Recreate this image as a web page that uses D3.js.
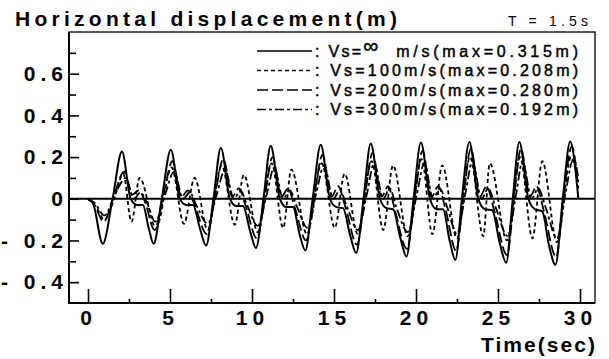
<!DOCTYPE html>
<html>
<head>
<meta charset="utf-8">
<script src="https://cdn.jsdelivr.net/npm/d3@7"></script>
<style>
  body { margin: 0; background: #fff; }
  svg { display: block; font-family: "Liberation Sans", Arial, sans-serif; }
</style>
</head>
<body>
<svg id="chart" width="609" height="359"></svg>
<script>
// [time (s), displacement (m)] key points
const vsInf = [[0,0],[0.3,-0.02],[0.9,-0.216],[1.5,0],[2.07,0.227],[2.6,0.0],[3.0,-0.03],[3.35,-0.03],[3.7,-0.14],[4.0,-0.216],[4.5,0.0],[5.05,0.235],[5.6,0.0],[6.0,-0.03],[6.4,-0.03],[6.85,-0.15],[7.2,-0.225],[7.65,0],[8.1,0.245],[8.65,0],[9.05,-0.035],[9.45,-0.035],[9.9,-0.16],[10.24,-0.236],[10.7,0],[11.14,0.254],[11.7,0],[12.1,-0.04],[12.5,-0.04],[12.9,-0.17],[13.25,-0.248],[13.7,0],[14.19,0.259],[14.75,0],[15.15,-0.04],[15.55,-0.045],[16.0,-0.18],[16.35,-0.26],[16.8,0],[17.24,0.265],[17.8,0],[18.2,-0.045],[18.6,-0.05],[19.05,-0.19],[19.42,-0.277],[19.85,0],[20.3,0.27],[20.85,0],[21.25,-0.05],[21.65,-0.05],[22.05,-0.2],[22.4,-0.293],[22.8,0],[23.25,0.272],[23.8,0],[24.2,-0.05],[24.65,-0.055],[25.1,-0.21],[25.5,-0.307],[25.9,0],[26.3,0.272],[26.85,0],[27.25,-0.05],[27.7,-0.06],[28.1,-0.22],[28.5,-0.317],[28.95,0],[29.4,0.275],[29.9,0.0]];

const vs100 = [[0,0],[0.5,-0.04],[1.0,-0.1],[1.6,0.0],[2.15,0.12],[2.65,-0.11],[3.15,0.1],[4.15,-0.14],[5.1,0.15],[5.85,-0.12],[6.5,0.1],[7.3,-0.15],[8.15,0.16],[8.95,-0.125],[9.5,0.115],[10.35,-0.16],[11.2,0.17],[11.9,-0.14],[12.4,0.14],[13.35,-0.17],[14.25,0.17],[15.05,-0.14],[15.65,0.12],[16.45,-0.17],[17.3,0.18],[18.0,-0.15],[18.6,0.16],[19.5,-0.18],[20.35,0.19],[21.0,-0.17],[21.6,0.16],[22.5,-0.19],[23.3,0.2],[24.1,-0.18],[24.5,0.17],[25.55,-0.2],[26.35,0.2],[27.1,-0.19],[27.7,0.18],[28.6,-0.208],[29.45,0.2],[29.9,0.08]];

const vs200 = [[0,0],[0.4,-0.03],[0.95,-0.11],[1.6,0.02],[2.2,0.13],[2.7,0.02],[3.1,0.04],[3.5,-0.02],[4.05,-0.15],[4.6,0.02],[5.15,0.18],[5.7,0.01],[6.1,0.04],[6.5,-0.03],[7.25,-0.17],[7.75,0.02],[8.25,0.19],[8.8,0.01],[9.2,0.05],[9.6,-0.03],[10.3,-0.19],[10.8,0.02],[11.25,0.2],[11.8,0.01],[12.2,0.05],[12.6,-0.04],[13.3,-0.2],[13.8,0.02],[14.3,0.21],[14.85,0.01],[15.25,0.06],[15.7,-0.04],[16.4,-0.22],[16.9,0.02],[17.35,0.22],[17.9,0.01],[18.3,0.06],[18.7,-0.05],[19.45,-0.24],[19.95,0.02],[20.4,0.23],[20.95,0.01],[21.35,0.06],[21.8,-0.05],[22.45,-0.25],[22.9,0.02],[23.35,0.24],[23.9,0.01],[24.3,0.06],[24.75,-0.05],[25.55,-0.27],[26.0,0.02],[26.4,0.24],[26.95,0.01],[27.35,0.06],[27.8,-0.06],[28.55,-0.28],[29.0,0.02],[29.5,0.25],[29.9,0.05]];

const vs300 = [[0,0],[0.4,-0.02],[1.0,-0.08],[1.7,0.03],[2.3,0.1],[2.8,0.0],[3.2,0.03],[3.6,-0.02],[4.1,-0.11],[4.7,0.02],[5.25,0.13],[5.8,0.0],[6.2,0.03],[6.6,-0.03],[7.3,-0.12],[7.85,0.02],[8.35,0.14],[8.9,0.0],[9.3,0.04],[9.7,-0.03],[10.35,-0.13],[10.9,0.02],[11.35,0.15],[11.9,0.0],[12.3,0.04],[12.7,-0.03],[13.4,-0.14],[13.9,0.02],[14.4,0.16],[14.95,0.0],[15.35,0.04],[15.8,-0.04],[16.45,-0.15],[17.0,0.02],[17.45,0.17],[18.0,0.0],[18.4,0.05],[18.8,-0.04],[19.5,-0.16],[20.05,0.02],[20.5,0.17],[21.05,0.0],[21.45,0.05],[21.9,-0.04],[22.5,-0.17],[23.0,0.02],[23.45,0.18],[24.0,0.0],[24.4,0.05],[24.85,-0.04],[25.6,-0.18],[26.1,0.02],[26.5,0.18],[27.05,0.0],[27.45,0.05],[27.9,-0.04],[28.6,-0.19],[29.1,0.02],[29.6,0.19],[29.9,0.1]];

const legendLabels = ['Vs=100m/s(max=0.208m)', 'Vs=200m/s(max=0.280m)', 'Vs=300m/s(max=0.192m)'];
const xMajor = [0, 5, 10, 15, 20, 25, 30];
const xMinor = [2.5, 7.5, 12.5, 17.5, 22.5, 27.5];
const yMajor = [-0.4, -0.2, 0, 0.2, 0.4, 0.6];
const yMinor = [-0.3, -0.1, 0.1, 0.3, 0.5, 0.7];

const svg = d3.select('#chart');
const frame = { left: 69, right: 595, top: 32, bottom: 303 };

// Scales
const x = d3.scaleLinear().domain([0, 30]).range([88, 580]);
const y = d3.scaleLinear().domain([-0.5, 0.8]).range([frame.bottom, frame.top]);

svg.append('rect').attr('width', 609).attr('height', 359).attr('fill', '#fff');

// Series lines
const series = [
  { data: vsInf, dash: null, w: 2 },
  { data: vs100, dash: '4,3', w: 1.8 },
  { data: vs200, dash: '11,4', w: 1.8 },
  { data: vs300, dash: '9,3,3,3', w: 1.8 }
];

const line = d3.line()
  .x(d => x(d[0]))
  .y(d => y(d[1]))
  .curve(d3.curveMonotoneX);

series.slice().reverse().forEach(s => {
  svg.append('path')
    .datum(s.data)
    .attr('fill', 'none')
    .attr('stroke', '#000')
    .attr('stroke-width', s.w)
    .attr('stroke-dasharray', s.dash)
    .attr('d', line);
});

// Zero line
svg.append('line')
  .attr('x1', frame.left).attr('x2', frame.right)
  .attr('y1', y(0)).attr('y2', y(0))
  .attr('stroke', '#000').attr('stroke-width', 2.2);

// Frame
svg.append('rect')
  .attr('x', frame.left).attr('y', frame.top)
  .attr('width', frame.right - frame.left)
  .attr('height', frame.bottom - frame.top)
  .attr('fill', 'none').attr('stroke', '#000').attr('stroke-width', 1.3);
svg.append('path')
  .attr('d', `M${frame.left},${frame.top}V${frame.bottom}H${frame.right}`)
  .attr('fill', 'none').attr('stroke', '#000').attr('stroke-width', 2);

// Axes (ticks point inward)
const fmt = d => d === 0 ? '0' : d < 0 ? '- ' + Math.abs(d).toFixed(1) : d.toFixed(1);

svg.append('g')
  .attr('class', 'y-axis')
  .attr('transform', `translate(${frame.left},0)`)
  .call(d3.axisLeft(y).tickValues(yMajor).tickSize(-10).tickPadding(1).tickFormat(fmt));
svg.append('g')
  .attr('transform', `translate(${frame.left},0)`)
  .call(d3.axisLeft(y).tickValues(yMinor).tickSize(-7).tickFormat(''));

svg.append('g')
  .attr('transform', `translate(0,${frame.bottom})`)
  .call(d3.axisBottom(x).tickValues(xMajor).tickSize(-14).tickPadding(7));
svg.append('g')
  .attr('transform', `translate(0,${frame.bottom})`)
  .call(d3.axisBottom(x).tickValues(xMinor).tickSize(-4).tickFormat(''));

svg.selectAll('.domain').remove();
svg.selectAll('.tick line').attr('stroke', '#000').attr('stroke-width', 1.6);
svg.selectAll('.tick text')
  .attr('fill', '#000')
  .style('font-family', '"Liberation Sans", Arial, sans-serif')
  .style('font-size', '21px')
  .style('font-weight', 'bold')
  .style('letter-spacing', '5px');

// Title and labels
svg.append('text')
  .attr('x', 15).attr('y', 26)
  .attr('textLength', 382).attr('lengthAdjust', 'spacing')
  .style('font-size', '21px').style('font-weight', 'bold')
  .text('Horizontal displacement(m)');

svg.append('text')
  .attr('x', 508).attr('y', 26)
  .attr('textLength', 80).attr('lengthAdjust', 'spacing')
  .style('font-size', '14px')
  .text('T = 1.5s');

svg.append('text')
  .attr('x', 595).attr('y', 352)
  .attr('text-anchor', 'end')
  .attr('textLength', 114).attr('lengthAdjust', 'spacing')
  .style('font-size', '21px').style('font-weight', 'bold')
  .text('Time(sec)');

// Legend
const legendY = [51, 70.5, 90, 109.5];
series.forEach((s, i) => {
  svg.append('line')
    .attr('x1', 257).attr('x2', 312)
    .attr('y1', legendY[i]).attr('y2', legendY[i])
    .attr('stroke', '#000').attr('stroke-width', 1.6)
    .attr('stroke-dasharray', s.dash);
});

const legendText = sel => sel
  .style('font-size', '16px')
  .attr('stroke', '#000').attr('stroke-width', 0.45);

const first = svg.append('text')
  .attr('x', 315).attr('y', legendY[0] + 5.5)
  .call(legendText);
first.append('tspan').text(': Vs=')
  .attr('textLength', 46).attr('lengthAdjust', 'spacing');
first.append('tspan').attr('dy', -4).style('font-size', '21px').text('∞');
first.append('tspan').attr('dy', 4).attr('x', 388).text('  m/s(max=0.315m)')
  .attr('textLength', 190).attr('lengthAdjust', 'spacing');

legendLabels.forEach((label, i) => {
  svg.append('text')
    .attr('x', 315).attr('y', legendY[i + 1] + 5.5)
    .attr('textLength', 263).attr('lengthAdjust', 'spacing')
    .call(legendText)
    .text(': ' + label);
});
</script>
</body>
</html>
